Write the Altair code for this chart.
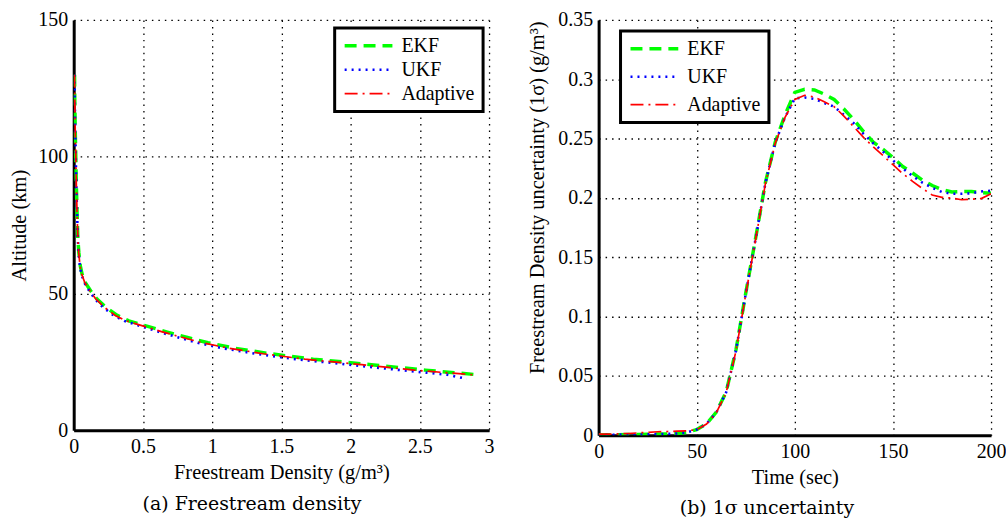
import altair as alt
import pandas as pd

series = ["EKF", "UKF", "Adaptive"]
colors = ["#00ff00", "#0000ff", "#ff0000"]
dashes = [[12, 7], [2, 5], [13, 5, 2, 5]]
widths = [3.5, 1.7, 3.5]

# ---- Panel (a): altitude vs freestream density ----
alt_km = [130, 120, 110, 100, 90, 80, 70, 65, 60, 57, 54, 51, 48, 45, 42, 40,
          38, 36, 34, 32, 30, 28, 26, 24, 22, 20.3]
dens_adaptive = [0.006, 0.008, 0.011, 0.015, 0.019, 0.024, 0.030, 0.036, 0.046, 0.058,
                 0.080, 0.117, 0.160, 0.220, 0.300, 0.380, 0.510, 0.640, 0.780, 0.930,
                 1.120, 1.370, 1.670, 2.080, 2.460, 2.880]
dens_ekf = [0.006, 0.008, 0.011, 0.015, 0.019, 0.024, 0.030, 0.037, 0.048, 0.061,
            0.084, 0.122, 0.168, 0.231, 0.315, 0.398, 0.535, 0.670, 0.815, 0.970,
            1.165, 1.420, 1.730, 2.150, 2.540, 2.920]
alt_ukf = [130, 120, 110, 100, 90, 80, 70, 65, 60, 57, 54, 51, 48, 45, 42, 40,
           38, 36, 34, 32, 30, 28, 26, 24, 22, 20.3, 18.8]
dens_ukf = [0.006, 0.008, 0.011, 0.015, 0.019, 0.024, 0.030, 0.035, 0.045, 0.056,
            0.077, 0.112, 0.154, 0.211, 0.288, 0.365, 0.490, 0.615, 0.750, 0.895,
            1.075, 1.315, 1.600, 1.990, 2.360, 2.700, 2.840]

# ---- Panel (b): 1-sigma uncertainty vs time ----
time_s = list(range(0, 205, 5))
sig_ekf = [0.0003, 0.0004, 0.0005, 0.0006, 0.0007, 0.0008, 0.0010, 0.0012, 0.0015, 0.0025,
           0.0048, 0.0097, 0.0195, 0.0365, 0.0720, 0.1200, 0.1660, 0.2130, 0.2470, 0.2700,
           0.2890, 0.2915, 0.2910, 0.2875, 0.2830, 0.2750, 0.2660, 0.2560, 0.2470, 0.2410,
           0.2340, 0.2265, 0.2210, 0.2150, 0.2105, 0.2070, 0.2050, 0.2053, 0.2055, 0.2045,
           0.2040]
sig_ukf = [0.0003, 0.0004, 0.0005, 0.0006, 0.0007, 0.0008, 0.0010, 0.0012, 0.0015, 0.0025,
           0.0048, 0.0096, 0.0192, 0.0362, 0.0715, 0.1195, 0.1655, 0.2125, 0.2465, 0.2680,
           0.2840, 0.2846, 0.2835, 0.2800, 0.2770, 0.2700, 0.2630, 0.2540, 0.2460, 0.2390,
           0.2315, 0.2250, 0.2185, 0.2130, 0.2085, 0.2050, 0.2035, 0.2035, 0.2040, 0.2055,
           0.2060]
sig_adaptive = [0.0010, 0.0010, 0.0012, 0.0015, 0.0020, 0.0025, 0.0030, 0.0032, 0.0035, 0.0038,
                0.0048, 0.0095, 0.0190, 0.0360, 0.0710, 0.1190, 0.1650, 0.2120, 0.2460, 0.2680,
                0.2830, 0.2865, 0.2850, 0.2810, 0.2770, 0.2690, 0.2600, 0.2510, 0.2430, 0.2356,
                0.2280, 0.2205, 0.2140, 0.2080, 0.2025, 0.2005, 0.2000, 0.1985, 0.1990, 0.1995,
                0.2035]

rows_a = []
for s, xs, ys in [("EKF", dens_ekf, alt_km), ("UKF", dens_ukf, alt_ukf),
                  ("Adaptive", dens_adaptive, alt_km)]:
    for i, (x, y) in enumerate(zip(xs, ys)):
        rows_a.append({"series": s, "i": i, "x": x, "y": y})
df_a = pd.DataFrame(rows_a)

rows_b = []
for s, ys in [("EKF", sig_ekf), ("UKF", sig_ukf), ("Adaptive", sig_adaptive)]:
    for i, (x, y) in enumerate(zip(time_s, ys)):
        rows_b.append({"series": s, "i": i, "x": x, "y": y})
df_b = pd.DataFrame(rows_b)

FONT = "Liberation Serif"


def make_legend(lx, ly, rowpad):
    return alt.Legend(title=None, orient="none", legendX=lx, legendY=ly,
                      rowPadding=rowpad, symbolType="stroke", clipHeight=20,
                      symbolSize=2300, labelOffset=7,
                      fillColor="white", strokeColor="black",
                      padding=8, labelFont=FONT, labelFontSize=20, labelColor="black")


def panel(df, xdom, xvals, ydom, yvals, xtitle, ytitle, w, h, lx, ly, rowpad, caption,
          ytp, ytitle_y=None):
    lg = make_legend(lx, ly, rowpad)
    color = alt.Color("series:N", scale=alt.Scale(domain=series, range=colors), legend=lg)
    dash = alt.StrokeDash("series:N", scale=alt.Scale(domain=series, range=dashes), legend=lg)
    sw = alt.StrokeWidth("series:N", scale=alt.Scale(domain=series, range=widths), legend=lg)
    x = alt.X("x:Q", scale=alt.Scale(domain=xdom, nice=False, zero=False),
              axis=alt.Axis(values=xvals, format="~r", title=xtitle))
    yaxis_kw = dict(values=yvals, format="~r", title=ytitle, titlePadding=ytp)
    if ytitle_y is not None:
        yaxis_kw["titleY"] = ytitle_y
    y = alt.Y("y:Q", scale=alt.Scale(domain=ydom, nice=False, zero=False),
              axis=alt.Axis(**yaxis_kw))
    layers = []
    for s in series:
        layers.append(
            alt.Chart(df).transform_filter(alt.datum.series == s)
            .mark_line(clip=True, strokeCap="butt")
            .encode(x=x, y=y, color=color, strokeDash=dash, strokeWidth=sw, order="i:Q")
        )
    return alt.layer(*layers).properties(
        width=w, height=h,
        title=alt.TitleParams(caption, orient="bottom", font="DejaVu Serif", frame="bounds",
                              anchor="middle", fontSize=19, fontWeight="normal", offset=12,
                              color="black"))


left = panel(df_a, [0, 3], [0, 0.5, 1, 1.5, 2, 2.5, 3], [0, 150], [0, 50, 100, 150],
             "Freestream Density (g/m³)", "Altitude (km)", 417, 412, 262, 8, 4,
             "(a) Freestream density", 8)
right = panel(df_b, [0, 200], [0, 50, 100, 150, 200], [0, 0.35],
              [0, 0.05, 0.1, 0.15, 0.2, 0.25, 0.3, 0.35],
              "Time (sec)", "Freestream Density uncertainty (1σ) (g/m³)", 394, 417, 22, 11, 8,
              "(b) 1σ uncertainty", 10, ytitle_y=178)

chart = alt.hconcat(left, right, spacing=34).resolve_scale(
    x="independent", y="independent",
    color="independent", strokeDash="independent", strokeWidth="independent",
).resolve_legend(
    color="independent", strokeDash="independent", strokeWidth="independent",
).configure(
    padding={"left": 10, "top": 9, "right": 0, "bottom": 0},
    background="white",
).configure_view(
    stroke=None
).configure_axis(
    labelFont=FONT, labelFontSize=20, labelColor="black", labelFlush=False,
    labelOverlap=False, labelBound=False,
    titleFont=FONT, titleFontSize=20.5, titleFontWeight="normal", titleColor="black",
    domainColor="black", domainWidth=3, ticks=False, labelPadding=6,
    grid=True, gridColor="black", gridDash=[1.5, 5], gridWidth=1.3, gridOpacity=1,
).configure_axisX(titlePadding=6).configure_legend(
    strokeWidth=3
)

chart.save("out.html", embed_options={"renderer": "svg", "actions": False})
